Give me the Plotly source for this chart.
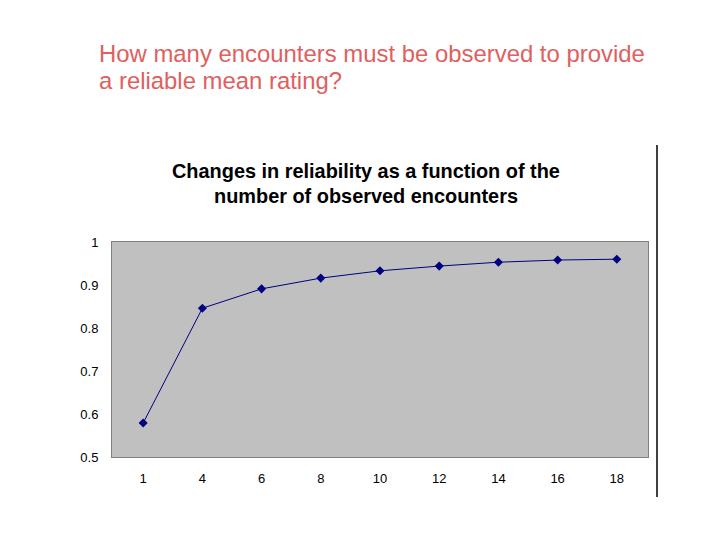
import plotly.graph_objects as go

encounters = ["1", "4", "6", "8", "10", "12", "14", "16", "18"]
reliability = [0.579, 0.846, 0.891, 0.916, 0.933, 0.944, 0.953, 0.958, 0.960]
y_ticks = [0.5, 0.6, 0.7, 0.8, 0.9, 1]
y_tick_labels = ["0.5", "0.6", "0.7", "0.8", "0.9", "1"]

heading_lines = ["How many encounters must be observed to provide", "a reliable mean rating?"]
title_lines = ["Changes in reliability as a function of the", "number of observed encounters"]

FONT = "Arial, Liberation Sans, sans-serif"

fig = go.Figure()
fig.add_trace(go.Scatter(
    x=encounters, y=reliability, mode="lines+markers",
    line=dict(color="#000080", width=1),
    marker=dict(symbol="diamond", size=7, color="#000080"),
    showlegend=False,
))

annotations = []
for txt, yy in zip(heading_lines, [1.879, 1.749]):
    annotations.append(dict(text=txt, xref="paper", yref="paper", x=-0.028, y=yy,
                            xanchor="left", yanchor="middle", showarrow=False,
                            font=dict(size=23.9, color="#e06060", family=FONT)))
for txt, yy in zip(title_lines, [1.330, 1.214]):
    annotations.append(dict(text="<b>" + txt + "</b>", xref="paper", yref="paper", x=0.474, y=yy,
                            xanchor="center", yanchor="middle", showarrow=False,
                            font=dict(size=19.9, color="black", family=FONT)))

fig.update_layout(
    width=720, height=540,
    margin=dict(l=112, r=72, t=242, b=83),
    paper_bgcolor="white", plot_bgcolor="#c0c0c0",
    font=dict(family=FONT, size=13, color="black"),
    xaxis=dict(type="category", showgrid=False, zeroline=False,
               showline=True, linecolor="#808080", linewidth=1, mirror=True,
               ticks="", tickfont=dict(size=13), ticklabelstandoff=9),
    yaxis=dict(range=[0.5, 1], tickvals=y_ticks, ticktext=y_tick_labels,
               showgrid=False, zeroline=False,
               showline=True, linecolor="#808080", linewidth=1, mirror=True,
               ticks="", tickfont=dict(size=13), ticklabelstandoff=10),
    annotations=annotations,
    shapes=[
        dict(type="line", xref="paper", yref="paper", x0=1.0168, x1=1.0168, y0=-0.186, y1=1.451,
             line=dict(color="black", width=1.5)),
    ],
)

fig.write_html("out.html")
